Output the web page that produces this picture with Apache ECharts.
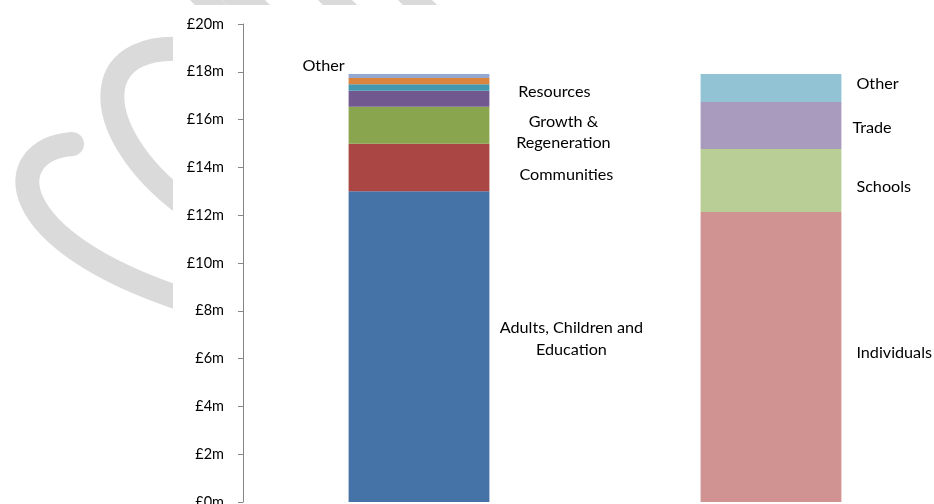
<!DOCTYPE html>
<html>
<head>
<meta charset="utf-8">
<script src="https://cdn.jsdelivr.net/npm/echarts@6/dist/echarts.min.js"></script>
<style>html,body{margin:0;padding:0;background:#fff}#c{width:934px;height:504px}</style>
</head>
<body>
<div id="c"></div>
<script>
var categories = ['Spending', 'Income'];
var yTicks = [0, 2, 4, 6, 8, 10, 12, 14, 16, 18, 20];
// Left bar (by directorate), values in £m
var adultsChildrenEducation = 13.0;
var communities = 1.99;
var growthRegeneration = 1.55;
var resources = 0.67;
var otherA = 0.27;
var otherB = 0.26;
var otherLeft = 0.17;
// Right bar (by payer), values in £m
var individuals = 12.13;
var schools = 2.64;
var trade = 1.97;
var otherRight = 1.17;

var FONT = 'Lato';
function lbl(pos, dist, align, dx, dy) {
  return { show: true, position: pos, distance: dist, align: align, offset: [dx, dy],
    color: '#000', fontFamily: FONT, fontSize: 16.2, lineHeight: 21.5,
    formatter: function (p) { return p.seriesName; } };
}
function mk(name, idx, val, color, label) {
  var d = idx === 0 ? [val, '-'] : ['-', val];
  return { name: name, type: 'bar', stack: 'total', barWidth: '40%', data: d,
    itemStyle: { color: color }, label: label || { show: false }, silent: true };
}
var series = [
  mk('Adults, Children and\nEducation', 0, adultsChildrenEducation, '#4572A7', lbl('right', 0, 'center', 82, -8)),
  mk('Communities', 0, communities, '#AA4643', lbl('right', 0, 'center', 77, 7.5)),
  mk('Growth &\nRegeneration', 0, growthRegeneration, '#89A54E', lbl('right', 0, 'center', 74, 7)),
  mk('Resources', 0, resources, '#71588F', lbl('right', 0, 'center', 65, -6.7)),
  mk('Other A', 0, otherA, '#4198AF'),
  mk('Other B', 0, otherB, '#DB843D'),
  mk('Other', 0, otherLeft, '#93A9CF', lbl('left', 4, 'right', 0, -10)),
  mk('Individuals', 1, individuals, '#D19392', lbl('right', 15, 'left', 0, -4)),
  mk('Schools', 1, schools, '#B9CD96', lbl('right', 15, 'left', 0, 6.5)),
  mk('Trade', 1, trade, '#A99BBD', lbl('right', 11, 'left', 0, 2.5)),
  mk('Other ', 1, otherRight, '#91C3D5', lbl('right', 15, 'left', 0, -4))
];
var wm = '#dadada';
var chart = echarts.init(document.getElementById('c'), null, { renderer: 'canvas' });
chart.setOption({
  animation: false,
  backgroundColor: '#fff',
  graphic: [
    { type: 'bezierCurve', z: -10, shape: { x1: 205, y1: 52, cpx1: 85, cpy1: 30, cpx2: 85, cpy2: 130, x2: 185, y2: 205 },
      style: { stroke: wm, lineWidth: 24, fill: null } },
    { type: 'bezierCurve', z: -10, shape: { x1: 72, y1: 144, cpx1: 0, cpy1: 150, cpx2: 0, cpy2: 240, x2: 185, y2: 300 },
      style: { stroke: wm, lineWidth: 24, fill: null, lineCap: 'round' } },
    { type: 'rect', z: -5, shape: { x: 173, y: 6, width: 800, height: 520 }, style: { fill: '#fff' } },
    { type: 'polygon', z: -4, shape: { points: [[190, 0], [222, 0], [227, 5], [195, 5]] }, style: { fill: wm } },
    { type: 'polygon', z: -4, shape: { points: [[222, 0], [265, 0], [270, 5], [227, 5]] }, style: { fill: wm } },
    { type: 'polygon', z: -4, shape: { points: [[318, 0], [352, 0], [357, 5], [323, 5]] }, style: { fill: wm } },
    { type: 'polygon', z: -4, shape: { points: [[398, 0], [432, 0], [437, 5], [403, 5]] }, style: { fill: wm } }
  ],
  grid: { left: 243, top: 24, bottom: 2, right: -13, containLabel: false, outerBoundsMode: 'none' },
  xAxis: { type: 'category', data: categories, show: false },
  yAxis: {
    type: 'value', min: yTicks[0], max: yTicks[yTicks.length - 1], interval: 2, z: 5,
    axisLine: { show: true, lineStyle: { color: '#868686', width: 1 } },
    axisTick: { show: true, length: 5, lineStyle: { color: '#868686' } },
    splitLine: { show: false },
    axisLabel: { margin: 19, color: '#000', fontFamily: FONT, fontSize: 14.5, formatter: '£{value}m' }
  },
  series: series
});
</script>
</body>
</html>
